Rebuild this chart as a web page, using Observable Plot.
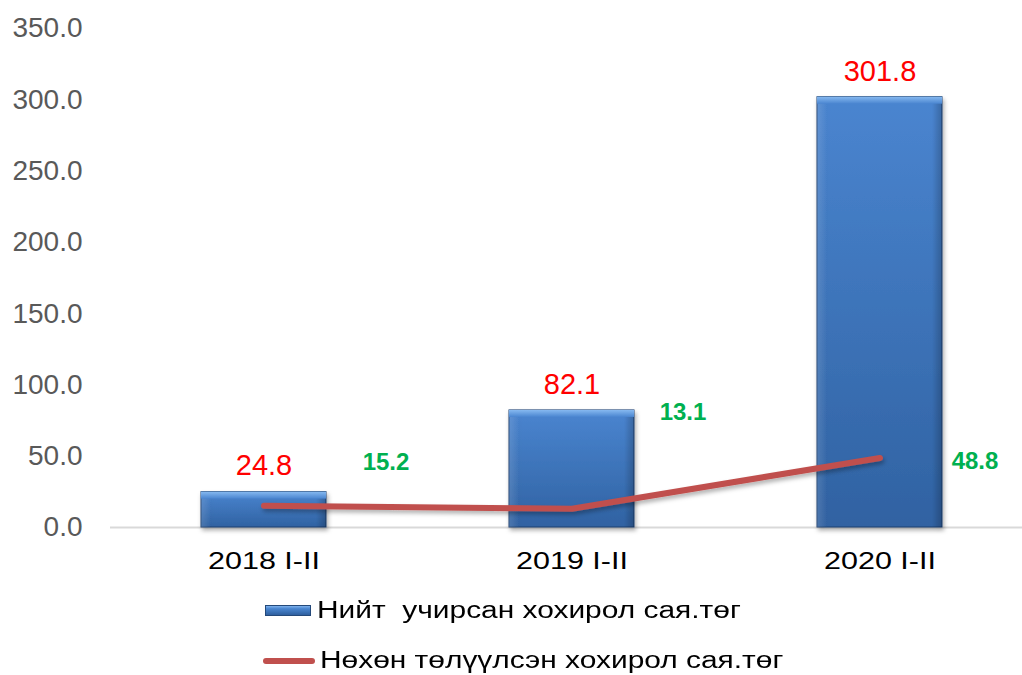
<!DOCTYPE html>
<html>
<head>
<meta charset="utf-8">
<script src="https://cdn.jsdelivr.net/npm/d3@7"></script>
<script src="https://cdn.jsdelivr.net/npm/@observablehq/plot@0.6"></script>
<style>
  html, body { margin: 0; padding: 0; background: #ffffff; }
  #wrap { position: relative; width: 1022px; height: 675px; font-family: "Liberation Sans", Arial, sans-serif; }
  #chart svg { display: block; }
  .leg { position: absolute; display: flex; align-items: center; font-size: 23px; color: #000; white-space: pre; line-height: 1; }
  .leg span { display: inline-block; transform: scaleX(1.3); transform-origin: left center; }
  .sw-bar { width: 46px; height: 11px; margin-right: 6px; background: linear-gradient(#7fb2ec 0%, #4a86d0 30%, #2f5f9e 100%); border: 1px solid #24497a; box-sizing: border-box; }
  .sw-line { width: 52px; height: 6px; border-radius: 3px; background: #c0504d; margin-right: 5px; }
</style>
</head>
<body>
<div id="wrap">
  <div id="chart"></div>
  <div class="leg" style="left:265px; top:599px;"><div class="sw-bar"></div><span>Нийт  учирсан хохирол сая.төг</span></div>
  <div class="leg" style="left:263px; top:649px;"><div class="sw-line"></div><span>Нөхөн төлүүлсэн хохирол сая.төг</span></div>
</div>
<script>
// ---- data ----
const categories = ["2018 I-II", "2019 I-II", "2020 I-II"];
const totalLoss = [24.8, 82.1, 301.8];      // Нийт учирсан хохирол сая.төг
const recovered = [15.2, 13.1, 48.8];       // Нөхөн төлүүлсэн хохирол сая.төг
const yTicks = [0, 50, 100, 150, 200, 250, 300, 350];

// ---- style config ----
const greenLabelOffsets = [[122, -44], [111, -97], [95, 3]];

const rows = categories.map((c, i) => ({cat: c, total: totalLoss[i], rec: recovered[i]}));

const defs = () => {
  const g = d3.create("svg:defs");
  const lg = g.append("linearGradient").attr("id", "barGrad").attr("x1", 0).attr("y1", 0).attr("x2", 0).attr("y2", 1);
  lg.append("stop").attr("offset", "0%").attr("stop-color", "#4a85d0");
  lg.append("stop").attr("offset", "100%").attr("stop-color", "#3062a2");
  const hg = g.append("linearGradient").attr("id", "sideGrad").attr("x1", 0).attr("y1", 0).attr("x2", 1).attr("y2", 0);
  hg.append("stop").attr("offset", "0%").attr("stop-color", "#ffffff").attr("stop-opacity", 0.12);
  hg.append("stop").attr("offset", "8%").attr("stop-color", "#ffffff").attr("stop-opacity", 0);
  hg.append("stop").attr("offset", "92%").attr("stop-color", "#000000").attr("stop-opacity", 0);
  hg.append("stop").attr("offset", "100%").attr("stop-color", "#000000").attr("stop-opacity", 0.18);
  const tg = g.append("linearGradient").attr("id", "topGrad").attr("x1", 0).attr("y1", 0).attr("x2", 0).attr("y2", 1);
  tg.append("stop").attr("offset", "0%").attr("stop-color", "#86b9f0");
  tg.append("stop").attr("offset", "100%").attr("stop-color", "#4a85d0");
  const f = g.append("filter").attr("id", "shadow").attr("x", "-20%").attr("y", "-20%").attr("width", "140%").attr("height", "140%");
  f.append("feDropShadow").attr("dx", 1.5).attr("dy", 3).attr("stdDeviation", 2).attr("flood-color", "#000").attr("flood-opacity", 0.3);
  return g.node();
};

const greenMarks = rows.map((r, i) => Plot.text([r], {
  x: "cat", y: "rec", text: d => d.rec.toFixed(1),
  dx: greenLabelOffsets[i][0], dy: greenLabelOffsets[i][1],
  fill: "#00b050", fontSize: 24, fontWeight: "bold"
}));

const chart = Plot.plot({
  width: 1022,
  height: 580,
  marginTop: 28,
  marginBottom: 53,
  marginLeft: 110,
  marginRight: 0,
  style: {fontFamily: "'Liberation Sans', Arial, sans-serif", background: "#ffffff"},
  x: {domain: categories, range: [110, 1033], paddingInner: 0.595, paddingOuter: 0.293, label: null},
  y: {domain: [0, 350], label: null},
  marks: [
    defs,
    Plot.ruleY([0], {stroke: "#d9d9d9", strokeWidth: 2}),
    Plot.barY(rows, {x: "cat", y: "total", fill: "url(#barGrad)", stroke: "#1f4170", strokeWidth: 1}),
    Plot.barY(rows, {x: "cat", y: "total", fill: "url(#sideGrad)"}),
    Plot.rect(rows, {x: "cat", y1: "total", y2: "total", insetBottom: -7, fill: "url(#topGrad)"}),
    Plot.line(rows, {x: "cat", y: "rec", stroke: "#c0504d", strokeWidth: 6, strokeLinecap: "round", strokeLinejoin: "round"}),
    Plot.text(rows, {x: "cat", y: "total", text: d => d.total.toFixed(1), dy: -26, fill: "#ff0000", fontSize: 29}),
    ...greenMarks,
    Plot.axisY({ticks: yTicks, tickFormat: d => d.toFixed(1), tickSize: 0, tickPadding: 28, fontSize: 28, color: "#595959", label: null}),
    Plot.axisX({tickSize: 0, tickPadding: 24, fontSize: 24, color: "#000000", label: null})
  ]
});
// apply drop shadow to bars and line
d3.select(chart).selectAll("g[aria-label='bar'], g[aria-label='line']").attr("filter", "url(#shadow)");
// widen x-axis tick labels to match the reference's stretched lettering
d3.select(chart).selectAll("g[aria-label='x-axis tick label'] text").each(function() {
  const t = this.getAttribute("transform") || "";
  this.setAttribute("transform", t + " scale(1.27,1)");
});
document.getElementById("chart").appendChild(chart);
</script>
</body>
</html>
